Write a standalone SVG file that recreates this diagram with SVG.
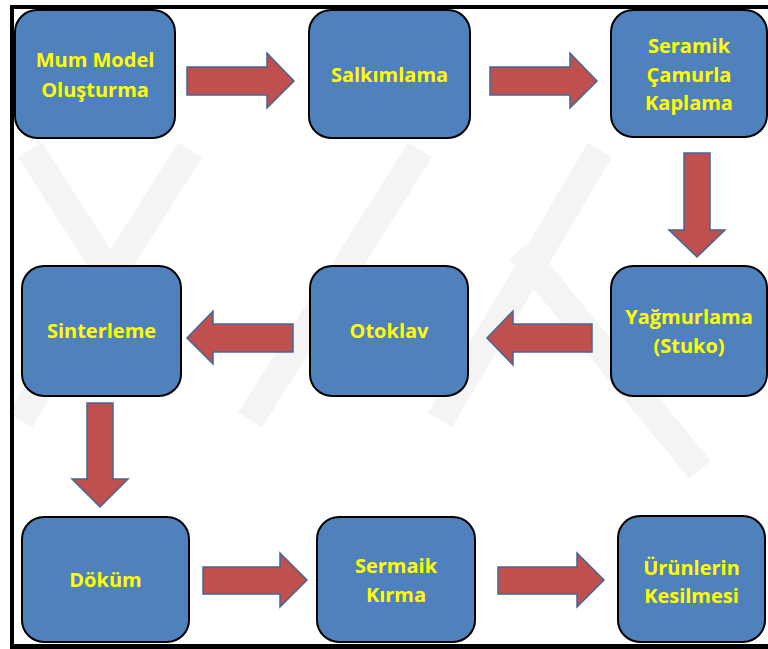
<svg xmlns="http://www.w3.org/2000/svg" width="768" height="649" viewBox="0 0 768 649">
<defs>
<style>
.box{fill:#4F81BD;stroke:#000;stroke-width:2}
.arr{fill:#C0504D;stroke:#41679A;stroke-width:1.5;stroke-linejoin:miter}
.t{font-family:"Open Sans","Liberation Sans",sans-serif;font-weight:bold;font-size:20px;fill:#FFFF00;text-anchor:middle}
.wm{fill:none;stroke:#F4F4F4;stroke-width:28}
</style>
</defs>
<rect x="0" y="0" width="768" height="649" fill="#fff"/>
<g id="watermark">
<polyline class="wm" points="30,150 120,290"/>
<polyline class="wm" points="190,150 20,420"/>
<polyline class="wm" points="420,150 250,420"/>
<polyline class="wm" points="600,150 440,420"/>
<polyline class="wm" points="520,250 700,470"/>
</g>
<g id="frame" fill="#000">
<rect x="10" y="5" width="758" height="4"/>
<rect x="10" y="5" width="4" height="644"/>
<rect x="10" y="644" width="758" height="5"/>
</g>
<g id="connectors">
<polygon class="arr" points="187,67 267,67 267,53 294,81 267,108 267,95 187,95"/>
<polygon class="arr" points="490,67 570,67 570,53 597,81 570,108 570,95 490,95"/>
<polygon class="arr" points="684,153 710,153 710,230 725,230 697,257 669,230 684,230"/>
<polygon class="arr" points="592,324 513,324 513,311 487,338 513,365 513,352 592,352"/>
<polygon class="arr" points="293,324 213,324 213,311 187,338 213,364 213,352 293,352"/>
<polygon class="arr" points="87,403 113,403 113,479 128,479 100,507 72,479 87,479"/>
<polygon class="arr" points="203,567 280,567 280,553 307,580 280,607 280,594 203,594"/>
<polygon class="arr" points="498,567 577,567 577,553 604,580 577,607 577,594 498,594"/>
</g>
<g id="n1"><rect class="box" x="15" y="10" width="160" height="128" rx="22"/><text class="t" x="95" y="67">Mum Model</text><text class="t" x="95" y="97">Oluşturma</text></g>
<g id="n2"><rect class="box" x="309" y="10" width="161" height="128" rx="22"/><text class="t" x="389.5" y="82">Salkımlama</text></g>
<g id="n3"><rect class="box" x="611" y="10" width="156" height="127" rx="22"/><text class="t" x="689" y="53">Seramik</text><text class="t" x="689" y="82">Çamurla</text><text class="t" x="689" y="110">Kaplama</text></g>
<g id="n4"><rect class="box" x="611" y="266" width="156" height="130" rx="22"/><text class="t" x="689" y="324">Yağmurlama</text><text class="t" x="689" y="353">(Stuko)</text></g>
<g id="n5"><rect class="box" x="310" y="266" width="158" height="130" rx="22"/><text class="t" x="389" y="338">Otoklav</text></g>
<g id="n6"><rect class="box" x="22" y="266" width="159" height="130" rx="22"/><text class="t" x="101.5" y="338">Sinterleme</text></g>
<g id="n7"><rect class="box" x="22" y="517" width="167" height="125" rx="22"/><text class="t" x="105.5" y="587">Döküm</text></g>
<g id="n8"><rect class="box" x="317" y="517" width="158" height="125" rx="22"/><text class="t" x="396" y="573">Sermaik</text><text class="t" x="396" y="602">Kırma</text></g>
<g id="n9"><rect class="box" x="618" y="516" width="147" height="126" rx="22"/><text class="t" x="691.5" y="575">Ürünlerin</text><text class="t" x="691.5" y="603">Kesilmesi</text></g>
</svg>
